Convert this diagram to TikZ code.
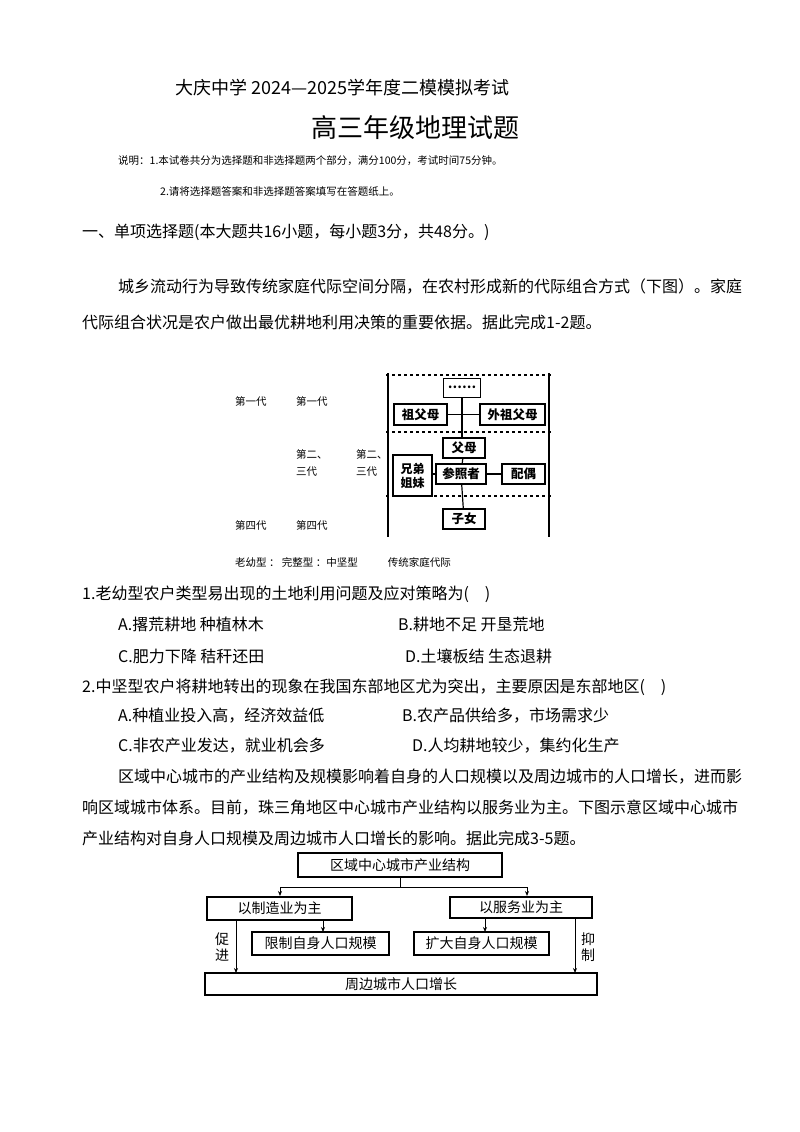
\documentclass[tikz,border=0pt]{standalone}
\usepackage{fontspec}
\setmainfont{Liberation Serif}
\newfontfamily\cjk{Noto Sans CJK SC}
\usetikzlibrary{arrows.meta}
\begin{document}
\begin{tikzpicture}[x=1pt,y=-1pt,
  txt/.style={anchor=west,inner sep=0pt,font=\cjk\fontsize{16}{16}\selectfont},
  sm/.style={anchor=west,inner sep=0pt,font=\cjk\fontsize{10.5}{10.5}\selectfont},
  fbox/.style={draw,line width=1.4pt,inner sep=0pt,font=\cjk\bfseries\fontsize{12.5}{12.5}\selectfont},
  gbox/.style={draw,line width=1.1pt,inner sep=0pt,font=\cjk\fontsize{14}{14}\selectfont},
  ln/.style={line width=1.2pt},
  arr/.style={line width=0.9pt,-{Stealth[length=5pt,width=4pt]}}]
\useasboundingbox (0,0) rectangle (800,1132);
\fill[white] (0,0) rectangle (800,1132);
% header
\node[anchor=west,inner sep=0pt,font=\cjk\fontsize{18}{18}\selectfont] (h1) at (175,88) {大庆中学 2024—2025学年度二模模拟考试};
\node[inner sep=0pt,font=\cjk\fontsize{26}{26}\selectfont] (h2) at (415,128) {高三年级地理试题};
\node[sm] (s1) at (118,161) {说明：1.本试卷共分为选择题和非选择题两个部分，满分100分，考试时间75分钟。};
\node[sm] (s2) at (160,191) {2.请将选择题答案和非选择题答案填写在答题纸上。};
\node[txt] (sec) at (82,232) {一、单项选择题(本大题共16小题，每小题3分，共48分。)};
\node[txt] (p1) at (118,287) {城乡流动行为导致传统家庭代际空间分隔，在农村形成新的代际组合方式（下图）。家庭};
\node[txt] (p2) at (82,322) {代际组合状况是农户做出最优耕地利用决策的重要依据。据此完成1-2题。};
% family diagram
\draw[ln] (388,373) coordinate (va) -- (388,537) coordinate (vb);
\draw[ln] (549,373) coordinate (vc) -- (549,537) coordinate (vd);
\foreach \yy in {375,432,496} \draw[ln,dashed] (386,\yy) -- (551,\yy);
\node[fbox,line width=1pt,minimum width=37pt,minimum height=19pt] (top) at (462,387.5) {……};
\node[fbox,minimum width=53pt,minimum height=21pt] (zf) at (420.5,414.5) {祖父母};
\node[fbox,minimum width=65pt,minimum height=21pt] (wz) at (512.5,414.5) {外祖父母};
\node[fbox,minimum width=42pt,minimum height=20pt] (fm) at (464,448) {父母};
\node[fbox,minimum width=39pt,minimum height=41pt,align=center,font=\cjk\bfseries\fontsize{12}{14}\selectfont] (xd) at (412.5,475.5) {兄弟\\姐妹};
\node[fbox,minimum width=50pt,minimum height=20pt] (ck) at (461,474) {参照者};
\node[fbox,minimum width=43pt,minimum height=20pt] (po) at (523.5,474) {配偶};
\node[fbox,minimum width=42pt,minimum height=20pt] (zn) at (464,519) {子女};
\draw[ln] (top.south) -- (top.south |- fm.north);
\draw[ln] (zf.east) -- (wz.west);
\draw[ln] (fm) -- (ck);
\draw[ln] (ck) -- (zn);
\draw[ln] (xd.east |- ck.west) -- (ck.west);
\draw[ln] (ck) -- (po);
\node[sm] (g1a) at (235,401) {第一代};
\node[sm] (g1b) at (296,401) {第一代};
\node[sm,align=left] (g2a) at (296,463) {第二、\\[6pt]三代};
\node[sm,align=left] (g2b) at (356,463) {第二、\\[6pt]三代};
\node[sm] (g4a) at (235,525) {第四代};
\node[sm] (g4b) at (296,525) {第四代};
\node[sm] (leg) at (235,562) {老幼型 ：\ 完整型 ：中坚型\hspace{30pt}传统家庭代际};
% questions
\node[txt] (q1) at (82,594) {1.老幼型农户类型易出现的土地利用问题及应对策略为(\quad)};
\node[txt] (q1a) at (118,624) {A.撂荒耕地\ 种植林木};
\node[txt] (q1b) at (398,624) {B.耕地不足\ 开垦荒地};
\node[txt] (q1c) at (118,656) {C.肥力下降\ 秸秆还田};
\node[txt] (q1d) at (405,656) {D.土壤板结\ 生态退耕};
\node[txt] (q2) at (82,687) {2.中坚型农户将耕地转出的现象在我国东部地区尤为突出，主要原因是东部地区(\quad)};
\node[txt] (q2a) at (118,716) {A.种植业投入高，经济效益低};
\node[txt] (q2b) at (402,716) {B.农产品供给多，市场需求少};
\node[txt] (q2c) at (118,746) {C.非农产业发达，就业机会多};
\node[txt] (q2d) at (412,746) {D.人均耕地较少，集约化生产};
\node[txt] (p3) at (118,777) {区域中心城市的产业结构及规模影响着自身的人口规模以及周边城市的人口增长，进而影};
\node[txt] (p4) at (82,808) {响区域城市体系。目前，珠三角地区中心城市产业结构以服务业为主。下图示意区域中心城市};
\node[txt] (p5) at (82,838) {产业结构对自身人口规模及周边城市人口增长的影响。据此完成3-5题。};
% flow diagram
\node[gbox,minimum width=204pt,minimum height=24pt] (c0) at (400,865) {区域中心城市产业结构};
\node[gbox,minimum width=145pt,minimum height=23pt] (cl) at (279.5,908.5) {以制造业为主};
\node[gbox,minimum width=142pt,minimum height=21pt] (cr) at (521,907.5) {以服务业为主};
\node[gbox,line width=1.6pt,minimum width=137pt,minimum height=23pt] (xz) at (320.5,943.5) {限制自身人口规模};
\node[gbox,line width=1.6pt,minimum width=135pt,minimum height=23pt] (kd) at (481.5,943.5) {扩大自身人口规模};
\node[gbox,minimum width=392pt,minimum height=22pt] (bt) at (401,984) {周边城市人口增长};
\coordinate (jn) at (400,887);
\draw[line width=0.9pt] (c0.south) -- (jn);
\draw[arr] (jn) -| (280,896);
\draw[arr] (jn) -| (527,896);
\draw[arr] (323,920) -- (323,932);
\draw[arr] (485,918) -- (485,932);
\draw[arr] (236,920) -- (236,973);
\draw[arr] (575,918) -- (575,973);
\node[inner sep=0pt,align=center,font=\cjk\fontsize{14}{16}\selectfont] (cj) at (222,947) {促\\进};
\node[inner sep=0pt,align=center,font=\cjk\fontsize{14}{16}\selectfont] (yz) at (588,947) {抑\\制};
\end{tikzpicture}
\end{document}
